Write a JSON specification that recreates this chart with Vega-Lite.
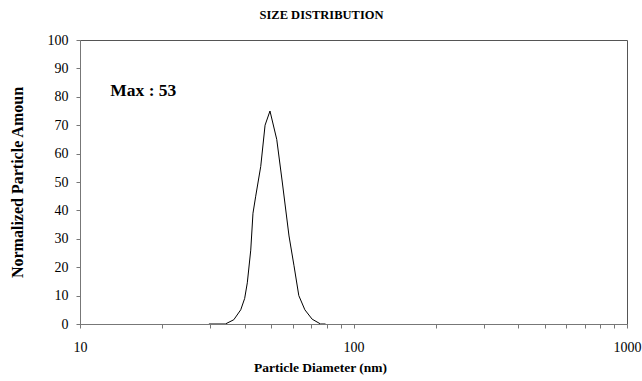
{
  "$schema": "https://vega.github.io/schema/vega-lite/v6.json",
  "width": 547,
  "height": 284,
  "autosize": "none",
  "padding": {"left": 80, "top": 40, "right": 15, "bottom": 57},
  "background": "white",
  "title": {
    "text": "SIZE DISTRIBUTION",
    "font": "Liberation Serif",
    "fontSize": 12.5,
    "fontWeight": "bold",
    "color": "black",
    "anchor": "middle",
    "dx": -32,
    "offset": 12
  },
  "config": {
    "view": {"stroke": "#555", "strokeWidth": 1},
    "axis": {
      "grid": false,
      "domainColor": "#777",
      "tickColor": "#777",
      "tickSize": 4,
      "labelFont": "Liberation Serif",
      "labelFontSize": 14,
      "labelColor": "black",
      "labelOverlap": false,
      "labelFlush": false,
      "titleFont": "Liberation Serif",
      "titleFontSize": 14,
      "titleFontWeight": "bold",
      "titleColor": "black"
    }
  },
  "encoding": {
    "x": {
      "field": "d",
      "type": "quantitative",
      "scale": {"type": "log", "domain": [10, 1000], "nice": false},
      "axis": {
        "title": "Particle Diameter (nm)",
        "titleFontSize": 13.5,
        "values": [10, 20, 30, 40, 50, 60, 70, 80, 90, 100, 200, 300, 400, 500, 600, 700, 800, 900, 1000],
        "labelExpr": "(datum.value == 10 || datum.value == 100 || datum.value == 1000) ? datum.value : ''",
        "labelPadding": 12,
        "labelOverlap": false,
        "titleX": 240,
        "titleY": 47,
        "titleBaseline": "alphabetic"
      }
    },
    "y": {
      "field": "v",
      "type": "quantitative",
      "scale": {"domain": [0, 100], "nice": false},
      "axis": {
        "title": "Normalized Particle Amoun",
        "titleFontSize": 16,
        "values": [0, 10, 20, 30, 40, 50, 60, 70, 80, 90, 100],
        "tickCount": 11,
        "labelOverlap": false,
        "labelPadding": 8,
        "titleX": -63,
        "titleY": 142,
        "titleAngle": -90,
        "titleAlign": "center",
        "titleBaseline": "middle"
      }
    }
  },
  "layer": [
    {
      "data": {
        "values": [
          {"d": 29.6, "v": 0},
          {"d": 34.0, "v": 0},
          {"d": 36.5, "v": 1.5},
          {"d": 38.7, "v": 5},
          {"d": 40.0, "v": 9},
          {"d": 40.9, "v": 14.5},
          {"d": 42.1, "v": 26},
          {"d": 42.9, "v": 39},
          {"d": 43.9, "v": 45},
          {"d": 45.8, "v": 55.5},
          {"d": 47.5, "v": 70},
          {"d": 49.5, "v": 75},
          {"d": 52.4, "v": 65},
          {"d": 54.9, "v": 50},
          {"d": 58.1, "v": 31},
          {"d": 60.6, "v": 20.5},
          {"d": 63.1, "v": 10},
          {"d": 66.4, "v": 5},
          {"d": 70.6, "v": 1.7},
          {"d": 75.8, "v": 0},
          {"d": 79.0, "v": 0}
        ]
      },
      "mark": {"type": "line", "color": "black", "strokeWidth": 1, "clip": true}
    },
    {
      "data": {"values": [{"d": 12.9, "v": 82, "label": "Max : 53"}]},
      "mark": {"type": "text", "font": "Liberation Serif", "fontSize": 17.5, "fontWeight": "bold", "color": "black", "align": "left", "baseline": "middle"},
      "encoding": {
        "text": {"field": "label"}
      }
    }
  ]
}
